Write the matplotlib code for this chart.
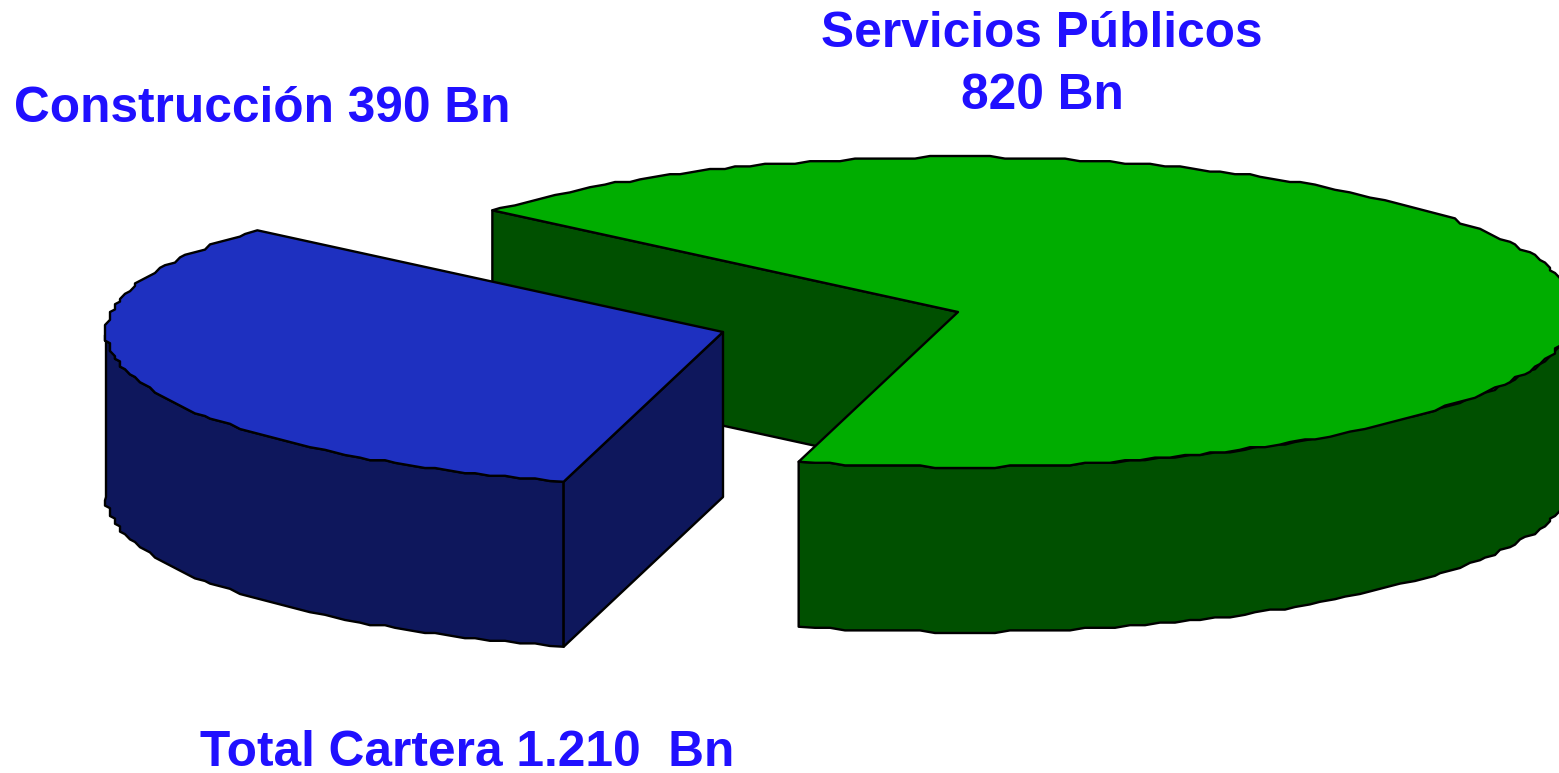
import numpy as np
import matplotlib
matplotlib.use("Agg")
import matplotlib.pyplot as plt

# cartera por sector, en Bn
sectors = ["Construcción", "Servicios Públicos"]
values = [390, 820]
total_label = "Total Cartera 1.210  Bn"

# pie geometry in pixels of the image
RX, RY = 617, 155
DEPTH = 165
START = 139
CENTERS = [(723, 332), (958, 312)]
TOP_COLORS = ["#1e30c0", "#00ad00"]
SIDE_COLORS = ["#0e175c", "#005000"]
TEXT_COLOR = "#2010ff"


def snap(pts, gx=5.0, gy=2.6):
    # the original has a slightly wobbly outline, keep that look
    out = np.array(pts, dtype=float)
    out[:, 0] = np.round(out[:, 0] / gx) * gx
    out[:, 1] = np.round(out[:, 1] / gy) * gy
    return out


def arc(center, a0, a1):
    n = max(2, int(abs(a1 - a0) / 1.4) + 1)
    t = np.radians(np.linspace(a0, a1, n))
    pts = np.column_stack([center[0] + RX * np.cos(t), center[1] - RY * np.sin(t)])
    if len(pts) > 2:
        pts[1:-1] = snap(pts[1:-1])
    return pts


def draw_poly(ax, pts, color, z):
    ax.fill(pts[:, 0], pts[:, 1], facecolor=color, edgecolor="black",
            linewidth=1.7, joinstyle="round", zorder=z)


def draw_top(ax, center, a0, a1, color, z):
    pts = np.vstack([[center], arc(center, a0, a1)])
    draw_poly(ax, pts, color, z)


def draw_wall(ax, center, a0, a1, color, z):
    # outer wall, only the part that faces the viewer
    upper = arc(center, a0, a1)
    lower = upper[::-1] + [0, DEPTH]
    draw_poly(ax, np.vstack([upper, lower]), color, z)


def draw_cut(ax, center, angle, color, z):
    t = np.radians(angle)
    rim = np.array([center[0] + RX * np.cos(t), center[1] - RY * np.sin(t)])
    pts = np.array([center, rim, rim + [0, DEPTH], np.array(center) + [0, DEPTH]])
    draw_poly(ax, pts, color, z)


fig = plt.figure(figsize=(15.59, 7.73), dpi=100)
ax = fig.add_axes([0, 0, 1, 1])
ax.set_xlim(0, 1559)
ax.set_ylim(773, 0)
ax.axis("off")

sweep = np.array(values) / sum(values) * 360
blue_a0, blue_a1 = START, START + sweep[0]
green_a0, green_a1 = blue_a1, blue_a1 + sweep[1]

# green slice
draw_cut(ax, CENTERS[1], START, SIDE_COLORS[1], 1)
draw_wall(ax, CENTERS[1], green_a0, 360, SIDE_COLORS[1], 2)
draw_top(ax, CENTERS[1], green_a0, green_a1, TOP_COLORS[1], 3)

# blue slice
draw_wall(ax, CENTERS[0], 180, blue_a1, SIDE_COLORS[0], 4)
draw_cut(ax, CENTERS[0], blue_a1, SIDE_COLORS[0], 4)
draw_top(ax, CENTERS[0], blue_a0, blue_a1, TOP_COLORS[0], 5)

font = dict(family=["Liberation Sans", "DejaVu Sans"], fontweight="bold",
            color=TEXT_COLOR, fontsize=35.75, ha="center", va="center", zorder=10)
ax.text(262, 109, f"{sectors[0]} {values[0]} Bn", **font)
ax.text(1042, 34, sectors[1], **font)
ax.text(1042, 96, f"{values[1]} Bn", **font)
ax.text(467, 753, total_label, **font)

fig.savefig("out.png", dpi=100)
